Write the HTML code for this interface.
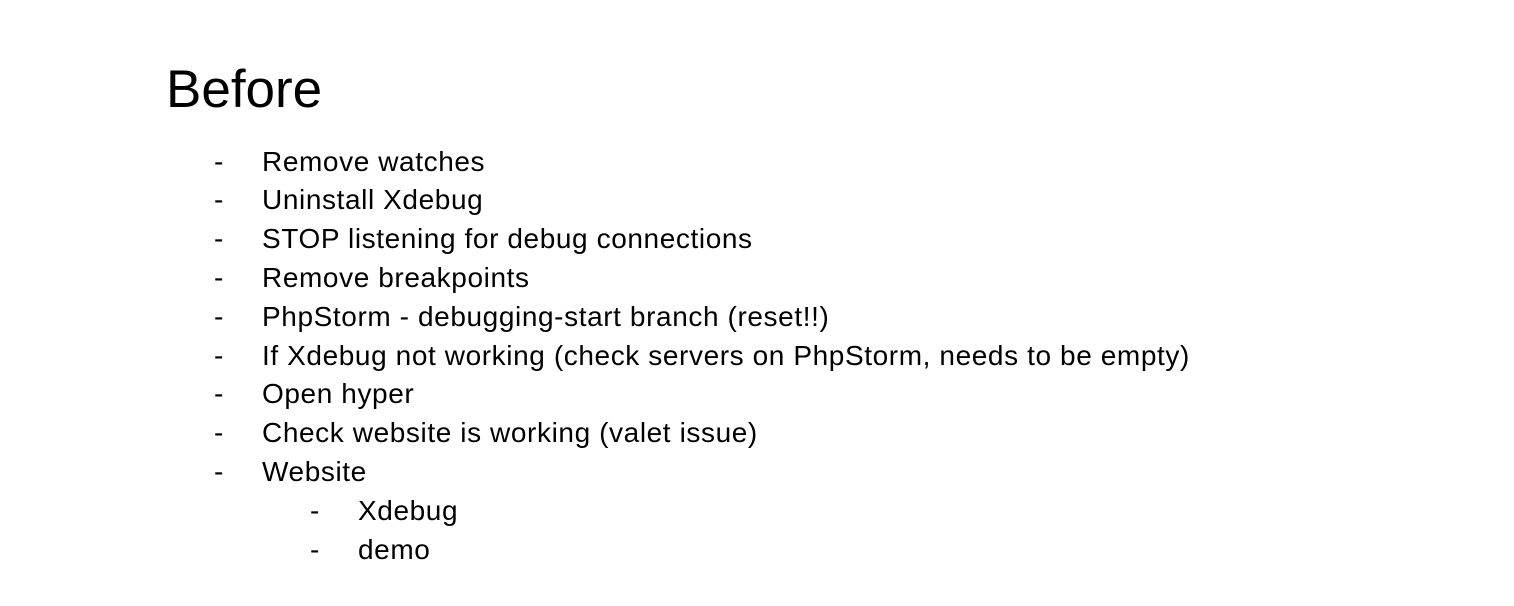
<!DOCTYPE html>
<html><head><style>
body{margin:0;width:1514px;height:606px;background:#fff;font-family:"Liberation Sans",Arial,sans-serif;color:#000;position:relative;overflow:hidden}
.t{position:absolute;left:166px;top:58px;font-size:53px;line-height:64px}
.l{position:absolute;font-size:28px;letter-spacing:0.6px;line-height:38.8px;white-space:nowrap}
.d{position:absolute;left:0}
</style></head><body>
<div class="t">Before</div>
<div class="l" style="left:214px;top:142.6px">
<div style="position:relative;padding-left:48px">
<div><span class="d">-</span>Remove watches</div>
<div style="position:relative"><span class="d" style="left:-48px">-</span>Uninstall Xdebug</div>
<div style="position:relative"><span class="d" style="left:-48px">-</span>STOP listening for debug connections</div>
<div style="position:relative"><span class="d" style="left:-48px">-</span>Remove breakpoints</div>
<div style="position:relative"><span class="d" style="left:-48px">-</span>PhpStorm - debugging-start branch (reset!!)</div>
<div style="position:relative"><span class="d" style="left:-48px">-</span>If Xdebug not working (check servers on PhpStorm, needs to be empty)</div>
<div style="position:relative"><span class="d" style="left:-48px">-</span>Open hyper</div>
<div style="position:relative"><span class="d" style="left:-48px">-</span>Check website is working (valet issue)</div>
<div style="position:relative"><span class="d" style="left:-48px">-</span>Website</div>
<div style="position:relative;padding-left:96px"><span class="d" style="left:48px">-</span>Xdebug</div>
<div style="position:relative;padding-left:96px"><span class="d" style="left:48px">-</span>demo</div>
</div></div>
</body></html>
